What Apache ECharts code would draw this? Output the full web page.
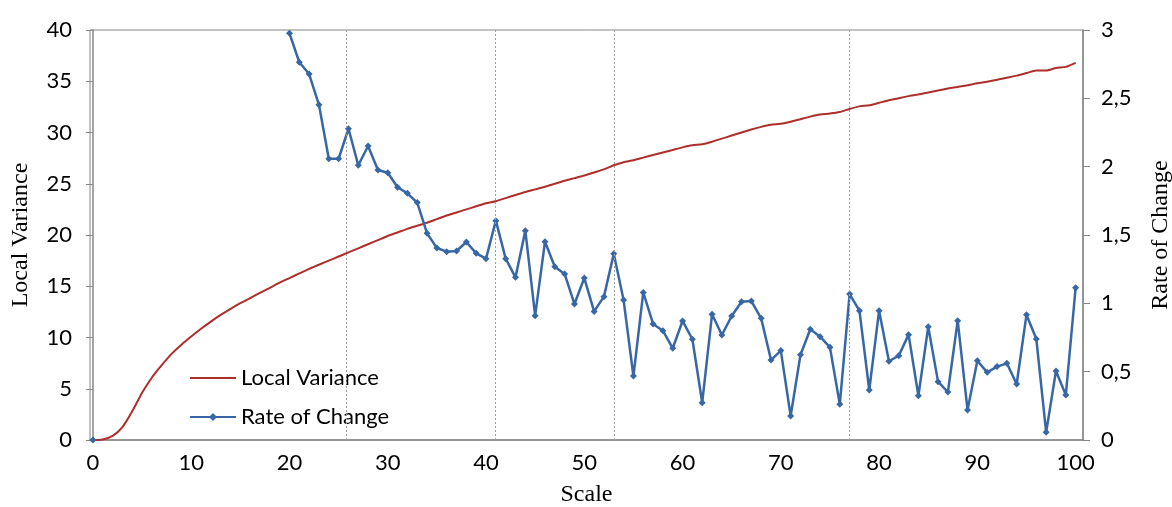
<!DOCTYPE html>
<html>
<head>
<meta charset="utf-8">
<script src="https://cdn.jsdelivr.net/npm/echarts@6/dist/echarts.min.js"></script>
<style>
  html, body { margin: 0; padding: 0; background: #fff; }
  #chart { width: 1172px; height: 507px; }
</style>
</head>
<body>
<div id="chart"></div>
<script>
// Scale values (x categories)
const scales = [0,1,2,3,4,5,6,7,8,9,10,11,12,13,14,15,16,17,18,19,20,21,22,23,24,25,26,27,28,29,30,31,32,33,34,35,36,37,38,39,40,41,42,43,44,45,46,47,48,49,50,51,52,53,54,55,56,57,58,59,60,61,62,63,64,65,66,67,68,69,70,71,72,73,74,75,76,77,78,79,80,81,82,83,84,85,86,87,88,89,90,91,92,93,94,95,96,97,98,99,100];

// Local Variance (left axis)
const localVariance = [0,0.05,0.4,1.25,2.8,4.6,6.1,7.3,8.4,9.3,10.1,10.85,11.55,12.2,12.8,13.35,13.85,14.35,14.85,15.35,15.8,16.25,16.7,17.1,17.5,17.9,18.3,18.7,19.1,19.5,19.9,20.25,20.6,20.9,21.2,21.55,21.9,22.2,22.5,22.8,23.1,23.3,23.6,23.9,24.2,24.45,24.7,25.0,25.3,25.55,25.8,26.1,26.4,26.8,27.1,27.3,27.55,27.8,28.05,28.3,28.55,28.75,28.85,29.1,29.4,29.7,30.0,30.3,30.55,30.75,30.85,31.05,31.3,31.55,31.75,31.85,32.0,32.3,32.55,32.65,32.9,33.15,33.35,33.55,33.7,33.9,34.1,34.3,34.45,34.6,34.8,34.95,35.15,35.35,35.55,35.8,36.05,36.05,36.3,36.4,36.8];

// Rate of Change (right axis); scales 1-19 are off the chart
const rateOfChange = [0,null,null,null,null,null,null,null,null,null,null,null,null,null,null,null,null,null,null,null,
  2.976,2.764,2.678,2.453,2.058,2.058,2.278,2.010,2.151,1.976,
  1.956,1.849,1.805,1.737,1.512,1.405,1.378,1.383,1.449,1.366,
  1.327,1.605,1.327,1.190,1.532,0.910,1.451,1.268,1.215,0.995,
  1.185,0.941,1.049,1.363,1.024,0.468,1.080,0.849,0.800,0.671,
  0.871,0.737,0.273,0.920,0.768,0.907,1.012,1.017,0.890,0.585,
  0.654,0.176,0.624,0.810,0.756,0.678,0.261,1.068,0.946,0.366,
  0.946,0.576,0.617,0.771,0.324,0.829,0.427,0.351,0.873,0.220,
  0.580,0.495,0.537,0.561,0.410,0.917,0.739,0.056,0.505,0.329,
  1.114];

// x tick labels and dotted reference lines
const xTicks = [0,10,20,30,40,50,60,70,80,90,100];
const refLines = [25.8, 40.9, 53, 77];

const lvData = scales.map((s, i) => [s, localVariance[i]]);
const rcData = scales.map((s, i) => [s, rateOfChange[i]]);

const axisColor = '#868686';
const labelFont = 'Lato';
const labelSize = 22;
const titleFont = 'Liberation Serif';
const titleSize = 24;
const chart = echarts.init(document.getElementById('chart'), null, { renderer: 'canvas' });
chart.setOption({
  animation: false,
  backgroundColor: '#ffffff',
  grid: { left: 90, right: 89, top: 30, bottom: 67, outerBoundsMode: 'none', containLabel: false,
          show: true, borderColor: axisColor, borderWidth: 1 },
  legend: {
    orient: 'vertical', left: 184, top: 362, itemWidth: 46, itemHeight: 10, itemGap: 17,
    textStyle: { fontFamily: labelFont, fontSize: labelSize, color: '#000' },
    data: [
      { name: 'Local Variance', itemStyle: { opacity: 0 } },
      { name: 'Rate of Change' }
    ]
  },
  xAxis: {
    type: 'value', min: -0.3, max: 100.75,
    name: 'Scale', nameLocation: 'middle', nameGap: 43,
    nameTextStyle: { fontFamily: titleFont, fontSize: titleSize, color: '#000' },
    axisLine: { show: true, onZero: false, lineStyle: { color: axisColor, width: 1.5 } },
    axisTick: { show: false },
    splitLine: { show: false },
    axisLabel: { customValues: xTicks, margin: 12, fontFamily: labelFont, fontSize: labelSize, color: '#000' }
  },
  yAxis: [
    {
      type: 'value', min: 0, max: 40, interval: 5, position: 'left',
      name: 'Local Variance', nameLocation: 'middle', nameGap: 57, nameRotate: 90,
      nameTextStyle: { fontFamily: titleFont, fontSize: titleSize, color: '#000' },
      axisLine: { show: true, lineStyle: { color: axisColor, width: 1.5 } },
      axisTick: { show: true, inside: false, length: 7, lineStyle: { color: axisColor } },
      splitLine: { show: false },
      axisLabel: { margin: 18, fontFamily: labelFont, fontSize: labelSize, color: '#000' }
    },
    {
      type: 'value', min: 0, max: 3, interval: 0.5, position: 'right',
      name: 'Rate of Change', nameLocation: 'middle', nameGap: 66, nameRotate: 90,
      nameTextStyle: { fontFamily: titleFont, fontSize: titleSize, color: '#000' },
      axisLine: { show: true, lineStyle: { color: axisColor, width: 1.5 } },
      axisTick: { show: true, inside: false, length: 7, lineStyle: { color: axisColor } },
      splitLine: { show: false },
      axisLabel: { margin: 18, fontFamily: labelFont, fontSize: labelSize, color: '#000',
        formatter: v => String(v).replace('.', ',') }
    }
  ],
  series: [
    {
      name: 'Local Variance', type: 'line', yAxisIndex: 0, data: lvData,
      symbol: 'none', smooth: 0.2, z: 3,
      lineStyle: { color: '#AE2E2C', width: 2 }, itemStyle: { color: '#AE2E2C' },
      markLine: {
        silent: true, symbol: 'none', label: { show: false },
        lineStyle: { color: '#a0a0a0', type: [2, 2], width: 1 },
        data: refLines.map(x => ({ xAxis: x }))
      }
    },
    {
      name: 'Rate of Change', type: 'line', yAxisIndex: 1, data: rcData,
      symbol: 'diamond', symbolSize: 7, showAllSymbol: true, connectNulls: false, z: 4,
      lineStyle: { color: '#3867A6', width: 2.5 }, itemStyle: { color: '#3867A6' }
    }
  ]
});
</script>
</body>
</html>
